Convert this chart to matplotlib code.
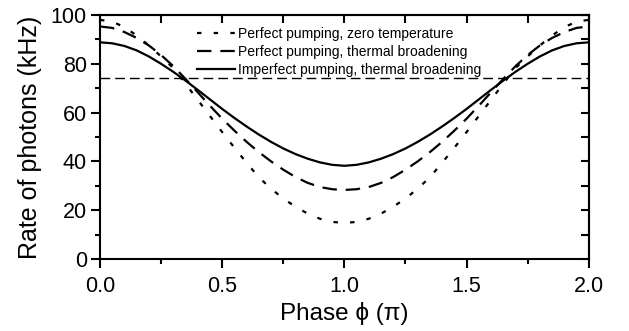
import numpy as np
import matplotlib
matplotlib.use('Agg')
import matplotlib.pyplot as plt

plt.rcParams['font.family'] = ['Liberation Sans', 'DejaVu Sans']

# phase in units of pi, 0.05 steps
phase = np.linspace(0, 2, 41)

zero_temp = [98.0, 97.3, 95.0, 91.6, 87.5, 83.0, 78.2, 71.8, 65.2, 58.6,
             52.0, 45.6, 39.4, 33.5, 28.8, 24.8, 21.4, 18.6, 16.5, 15.2,
             14.8,
             15.2, 16.5, 18.6, 21.4, 24.8, 28.8, 33.5, 39.4, 45.6, 52.0,
             58.6, 65.2, 71.8, 78.2, 83.0, 87.5, 91.6, 95.0, 97.3, 98.0]

thermal = [95.3, 94.7, 93.0, 90.6, 87.5, 83.6, 79.0, 73.8, 68.3, 62.8,
           57.5, 52.6, 48.0, 43.8, 40.0, 36.6, 33.6, 31.2, 29.5, 28.6,
           28.3,
           28.6, 29.5, 31.2, 33.6, 36.6, 40.0, 43.8, 48.0, 52.6, 57.5,
           62.8, 68.3, 73.8, 79.0, 83.6, 87.5, 90.6, 93.0, 94.7, 95.3]

imperfect = [88.8, 88.4, 87.3, 85.5, 83.0, 80.0, 76.7, 73.1, 69.3, 65.4,
             61.5, 57.8, 54.3, 51.0, 48.0, 45.3, 43.0, 41.1, 39.6, 38.6,
             38.2,
             38.6, 39.6, 41.1, 43.0, 45.3, 48.0, 51.0, 54.3, 57.8, 61.5,
             65.4, 69.3, 73.1, 76.7, 80.0, 83.0, 85.5, 87.3, 88.4, 88.8]

threshold = 74

labels = ['Perfect pumping, zero temperature',
          'Perfect pumping, thermal broadening',
          'Imperfect pumping, thermal broadening']

fig = plt.figure(figsize=(6.29, 3.31), dpi=100)
ax = fig.add_axes([0.159, 0.2175, 0.777, 0.7372])

lw = 1.6
ax.plot(phase, zero_temp, color='black', lw=lw, dashes=(2.0, 5.5),
        label=labels[0])
ax.plot(phase, thermal, color='black', lw=lw, dashes=(6.5, 4.0),
        label=labels[1])
ax.plot(phase, imperfect, color='black', lw=lw, label=labels[2])
ax.axhline(threshold, color='black', lw=1.0, dashes=(7, 3.6))

ax.set_xlim(0, 2)
ax.set_ylim(0, 100)
ax.set_xticks([0, 0.5, 1.0, 1.5, 2.0])
ax.set_xticks([0.25, 0.75, 1.25, 1.75], minor=True)
ax.set_yticks([0, 20, 40, 60, 80, 100])
ax.set_yticks([10, 30, 50, 70, 90], minor=True)
ax.xaxis.set_major_formatter(matplotlib.ticker.FormatStrFormatter('%.1f'))

for s in ax.spines.values():
    s.set_linewidth(1.5)
ax.tick_params(which='major', direction='out', length=6.5, width=1.5,
               labelsize=15.5)
ax.tick_params(axis='x', which='major', pad=6)
ax.tick_params(axis='y', which='major', pad=3)
ax.tick_params(which='minor', direction='out', length=3.5, width=1.5)

# inward ticks on top and right
top = ax.secondary_xaxis('top')
top.set_xticks([0, 0.25, 0.5, 0.75, 1.0, 1.25, 1.5, 1.75, 2.0])
top.tick_params(direction='in', length=6, width=1.5, labeltop=False)
top.spines['top'].set_linewidth(1.5)
right = ax.secondary_yaxis('right')
right.set_yticks(range(0, 101, 10))
right.tick_params(direction='in', length=6, width=1.5, labelright=False)
right.spines['right'].set_linewidth(1.5)

ax.set_xlabel('Phase \u03d5 (\u03c0)', fontsize=17.5, labelpad=3)
ax.set_ylabel('Rate of photons (kHz)', fontsize=18, labelpad=6)

ax.legend(loc='upper left', bbox_to_anchor=(0.19, 0.967), frameon=False,
          fontsize=10, handlelength=2.7, handletextpad=0.25,
          labelspacing=0.27, borderpad=0.3, borderaxespad=0)

fig.savefig('out.png', dpi=100)
